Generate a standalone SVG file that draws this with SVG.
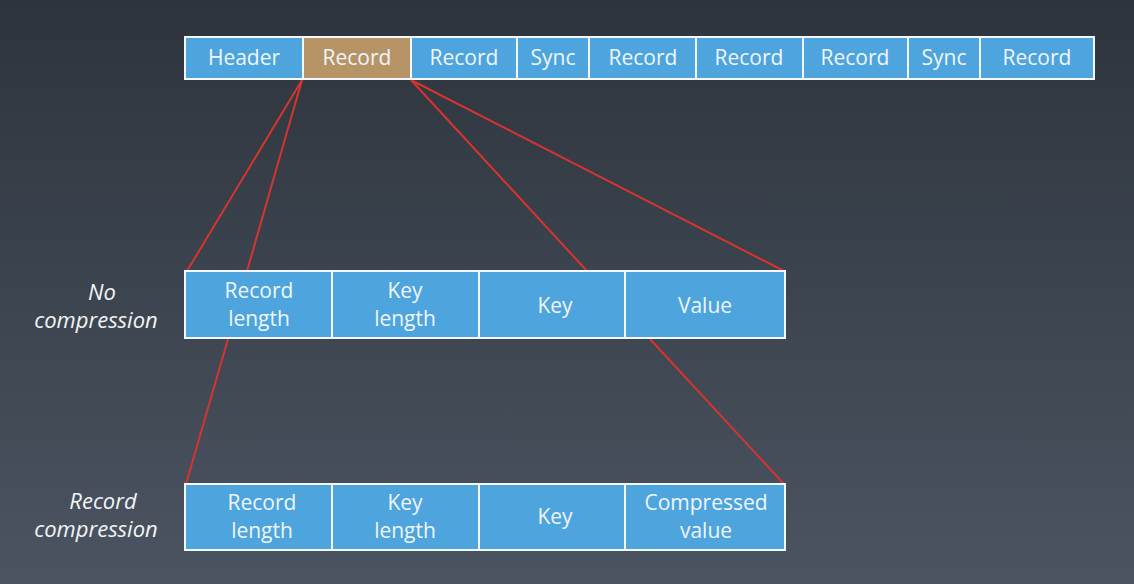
<svg xmlns="http://www.w3.org/2000/svg" width="1134" height="584" viewBox="0 0 1134 584">
<defs>
<linearGradient id="bg" x1="0" y1="0" x2="0" y2="1">
<stop offset="0" stop-color="#2d343d"/>
<stop offset="1" stop-color="#4b5461"/>
</linearGradient>
<style>
.c{fill:#4ea4dc;stroke:#f2f8fc;stroke-width:2}
.b{fill:#b79466;stroke:#f2f8fc;stroke-width:2}
.t{font-family:"Open Sans",sans-serif;font-size:21px;fill:#eef6fc;text-anchor:middle;dominant-baseline:central}
.l{font-family:"Open Sans",sans-serif;font-size:22px;font-style:italic;fill:#f2f4f6;text-anchor:middle}
.r{stroke:#d7332f;stroke-width:2;fill:none}
</style>
</defs>
<rect width="1134" height="584" fill="url(#bg)"/>
<g id="connectors">
<line class="r" x1="302" y1="80" x2="187" y2="271"/>
<line class="r" x1="302" y1="80" x2="247" y2="271"/>
<line class="r" x1="411" y1="80" x2="587" y2="271"/>
<line class="r" x1="411" y1="80" x2="784" y2="271"/>
<line class="r" x1="228" y1="339" x2="186" y2="484"/>
<line class="r" x1="650" y1="339" x2="784" y2="484"/>
</g>
<g id="top-bar">
<g id="t-header"><rect class="c" x="185" y="37" width="118" height="42"/><text class="t" x="244" y="57">Header</text></g>
<g id="t-record1"><rect class="b" x="303" y="37" width="108" height="42"/><text class="t" x="357" y="57">Record</text></g>
<g id="t-record2"><rect class="c" x="411" y="37" width="106" height="42"/><text class="t" x="464" y="57">Record</text></g>
<g id="t-sync1"><rect class="c" x="517" y="37" width="72" height="42"/><text class="t" x="553" y="57">Sync</text></g>
<g id="t-record3"><rect class="c" x="589" y="37" width="107" height="42"/><text class="t" x="643" y="57">Record</text></g>
<g id="t-record4"><rect class="c" x="696" y="37" width="107" height="42"/><text class="t" x="749" y="57">Record</text></g>
<g id="t-record5"><rect class="c" x="803" y="37" width="105" height="42"/><text class="t" x="855" y="57">Record</text></g>
<g id="t-sync2"><rect class="c" x="908" y="37" width="72" height="42"/><text class="t" x="944" y="57">Sync</text></g>
<g id="t-record6"><rect class="c" x="980" y="37" width="114" height="42"/><text class="t" x="1037" y="57">Record</text></g>
</g>
<g id="label-no"><text class="l" x="102" y="300">No</text><text class="l" x="96" y="328">compression</text></g>
<g id="row-no">
<g id="n-reclen"><rect class="c" x="185" y="271" width="147" height="67"/><text class="t" x="259" y="290">Record</text><text class="t" x="259" y="318">length</text></g>
<g id="n-keylen"><rect class="c" x="332" y="271" width="147" height="67"/><text class="t" x="405" y="290">Key</text><text class="t" x="405" y="318">length</text></g>
<g id="n-key"><rect class="c" x="479" y="271" width="146" height="67"/><text class="t" x="555" y="305">Key</text></g>
<g id="n-value"><rect class="c" x="625" y="271" width="160" height="67"/><text class="t" x="705" y="305">Value</text></g>
</g>
<g id="label-rec"><text class="l" x="103" y="509">Record</text><text class="l" x="96" y="537">compression</text></g>
<g id="row-rec">
<g id="r-reclen"><rect class="c" x="185" y="484" width="147" height="66"/><text class="t" x="262" y="502">Record</text><text class="t" x="262" y="530">length</text></g>
<g id="r-keylen"><rect class="c" x="332" y="484" width="147" height="66"/><text class="t" x="405" y="502">Key</text><text class="t" x="405" y="530">length</text></g>
<g id="r-key"><rect class="c" x="479" y="484" width="146" height="66"/><text class="t" x="555" y="516">Key</text></g>
<g id="r-value"><rect class="c" x="625" y="484" width="160" height="66"/><text class="t" x="706" y="502">Compressed</text><text class="t" x="706" y="530">value</text></g>
</g>
</svg>
